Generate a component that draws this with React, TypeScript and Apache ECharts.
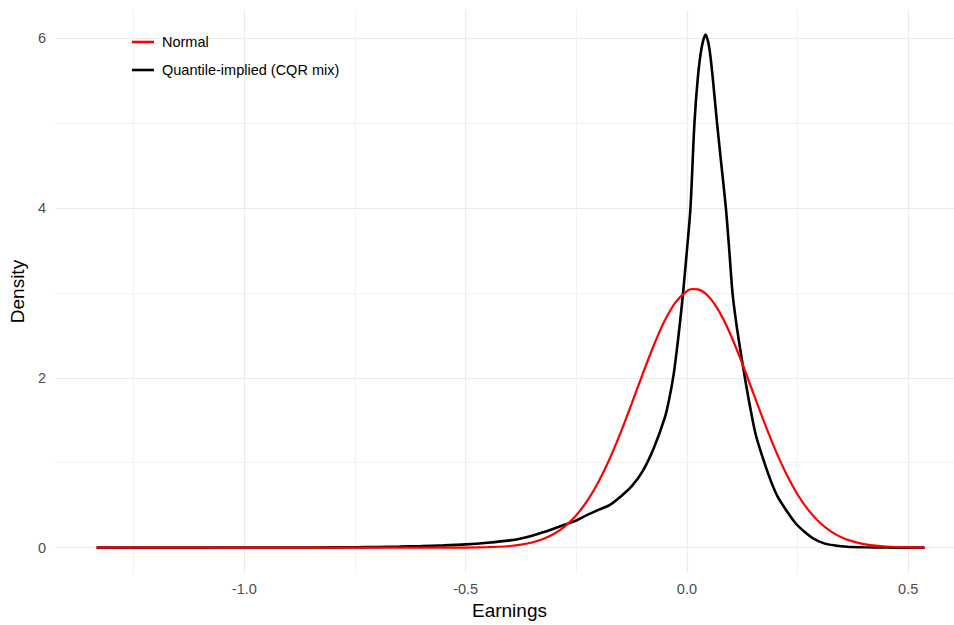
import React, { useEffect, useRef } from "react";
import * as echarts from "echarts";

// ---- Data ----
const normalX = [
  -1.334, -0.8, -0.6, -0.5, -0.45, -0.425,
  -0.4, -0.375, -0.35, -0.325, -0.3, -0.275, -0.25, -0.225, -0.2, -0.175,
  -0.15, -0.125, -0.1, -0.075, -0.05, -0.025, 0, 0.0125, 0.025, 0.05, 0.075,
  0.1, 0.125, 0.15, 0.175, 0.2, 0.225, 0.25, 0.275, 0.3, 0.325, 0.35,
  0.375, 0.4, 0.425, 0.45, 0.5, 0.537,
];
const normalY = [
  0, 0, 0, 0.001, 0.005, 0.01,
  0.019, 0.035, 0.06, 0.101, 0.163, 0.254, 0.382, 0.553, 0.773, 1.041,
  1.352, 1.693, 2.044, 2.38, 2.673, 2.893, 3.02, 3.045, 3.04, 2.951, 2.761,
  2.492, 2.168, 1.819, 1.472, 1.148, 0.864, 0.626, 0.438, 0.295, 0.192, 0.12,
  0.073, 0.042, 0.024, 0.013, 0.003, 0.001,
];

const cqrX = [
  -1.334, -1.1, -0.95, -0.85, -0.75, -0.7, -0.65, -0.6, -0.55, -0.5, -0.45,
  -0.4, -0.375, -0.35, -0.325, -0.3, -0.275, -0.25, -0.225, -0.2, -0.175,
  -0.15, -0.125, -0.1, -0.075, -0.05, -0.04, -0.03, -0.02,
  -0.01, 0, 0.008, 0.017, 0.025, 0.033, 0.042, 0.05, 0.058, 0.068, 0.078,
  0.088, 0.095, 0.103, 0.11, 0.12, 0.131, 0.143, 0.156, 0.175, 0.19, 0.205,
  0.227, 0.245, 0.265, 0.285, 0.31, 0.335, 0.362, 0.4, 0.45, 0.537,
];
const cqrY = [
  0, 0.0005, 0.001, 0.002, 0.005, 0.008, 0.012, 0.018, 0.026, 0.038, 0.058,
  0.085, 0.108, 0.14, 0.18, 0.225, 0.272, 0.32, 0.385, 0.445, 0.5,
  0.6, 0.72, 0.9, 1.17, 1.53, 1.75, 2.04, 2.45,
  2.93, 3.5, 4.0, 5.0, 5.55, 5.88, 6.04, 5.9, 5.55, 5.0, 4.5,
  4.0, 3.55, 3.0, 2.7, 2.35, 2.0, 1.65, 1.32, 1.0, 0.78, 0.6,
  0.42, 0.29, 0.19, 0.11, 0.05, 0.025, 0.01, 0.004, 0.001, 0,
];

const xTickLabels = [-1.0, -0.5, 0.0, 0.5];
const xMinorGrid = [-1.25, -0.75, -0.25, 0.25];
const yTickLabels = [0, 2, 4, 6];
const yMinorGrid = [1, 3, 5];

const seriesNames = ["Normal", "Quantile-implied (CQR mix)"];
const seriesColors = ["#FF0000", "#000000"];

const FONT = "'Liberation Sans', Arial, sans-serif";

export default function App() {
  const ref = useRef<HTMLDivElement>(null);

  useEffect(() => {
    if (!ref.current) return;
    const chart = echarts.init(ref.current, null, { renderer: "svg" });

    const zip = (xs: number[], ys: number[]) => xs.map((x, i) => [x, ys[i]]);

    const gridLines: any[] = [
      ...xTickLabels.map((v) => ({ xAxis: v, lineStyle: { width: 1.1, color: "#EBEBEB", type: "solid" } })),
      ...xMinorGrid.map((v) => ({ xAxis: v, lineStyle: { width: 0.8, color: "#EFEFEF", type: "solid" } })),
      ...yTickLabels.map((v) => ({ yAxis: v, lineStyle: { width: 1.1, color: "#EBEBEB", type: "solid" } })),
      ...yMinorGrid.map((v) => ({ yAxis: v, lineStyle: { width: 0.8, color: "#EFEFEF", type: "solid" } })),
    ];

    const option: any = {
      animation: false,
      backgroundColor: "#FFFFFF",
      textStyle: { fontFamily: FONT },
      grid: { left: 51, right: 0, top: 10, bottom: 50, containLabel: false },
      legend: {
        data: seriesNames.map((n) => ({ name: n })),
        orient: "vertical",
        left: 127,
        top: 29,
        icon: "rect",
        itemWidth: 22,
        itemHeight: 2.6,
        itemGap: 12,
        textStyle: {
          fontFamily: FONT,
          fontSize: 14.5,
          color: "#000000",
          lineHeight: 16,
          padding: [0, 0, 0, 3],
        },
      },
      xAxis: {
        type: "value",
        min: -1.428,
        max: 0.6035,
        name: "Earnings",
        nameLocation: "middle",
        nameGap: 24,
        nameTextStyle: { fontFamily: FONT, fontSize: 19, color: "#000000", padding: [0, 0, 0, 10] },
        axisLine: { show: false },
        axisTick: { show: false },
        splitLine: { show: false },
        axisLabel: {
          customValues: xTickLabels,
          formatter: (v: number) => v.toFixed(1),
          fontFamily: FONT,
          fontSize: 14.5,
          color: "#4D4D4D",
          margin: 8,
        },
      },
      yAxis: {
        type: "value",
        min: -0.3,
        max: 6.33,
        name: "Density",
        nameLocation: "middle",
        nameRotate: 90,
        nameGap: 21,
        nameTextStyle: { fontFamily: FONT, fontSize: 19, color: "#000000" },
        axisLine: { show: false },
        axisTick: { show: false },
        splitLine: { show: false },
        axisLabel: {
          customValues: yTickLabels,
          formatter: (v: number) => String(v),
          fontFamily: FONT,
          fontSize: 14.5,
          color: "#4D4D4D",
          margin: 9,
        },
      },
      series: [
        {
          type: "line",
          name: "__grid",
          data: [],
          z: 0,
          silent: true,
          markLine: {
            z: 0,
            silent: true,
            symbol: ["none", "none"],
            label: { show: false },
            animation: false,
            data: gridLines,
          },
        },
        {
          type: "line",
          name: seriesNames[1],
          data: zip(cqrX, cqrY),
          showSymbol: false,
          symbol: "none",
          smooth: 0.3,
          z: 3,
          color: seriesColors[1],
          lineStyle: { color: seriesColors[1], width: 2.6 },
        },
        {
          type: "line",
          name: seriesNames[0],
          data: zip(normalX, normalY),
          showSymbol: false,
          symbol: "none",
          smooth: 0.3,
          z: 4,
          color: seriesColors[0],
          lineStyle: { color: seriesColors[0], width: 2.2 },
        },
      ],
    };

    chart.setOption(option);
    return () => chart.dispose();
  }, []);

  return (
    <div
      ref={ref}
      style={{ position: "fixed", left: 0, top: 0, width: 954, height: 625, background: "#fff" }}
    />
  );
}
